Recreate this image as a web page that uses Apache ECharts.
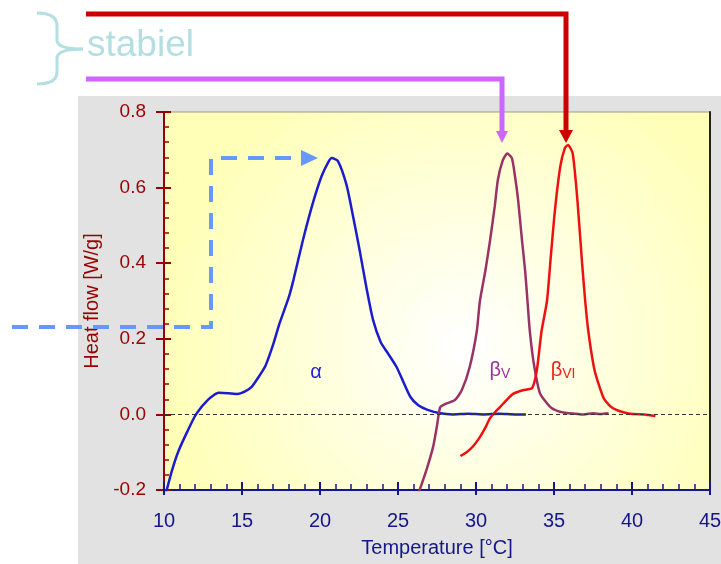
<!DOCTYPE html>
<html>
<head>
<meta charset="utf-8">
<script src="https://cdn.jsdelivr.net/npm/echarts@6/dist/echarts.min.js"></script>
<style>
  html, body { margin: 0; padding: 0; background: #fff; }
  #main { width: 721px; height: 564px; }
</style>
</head>
<body>
<div id="main"></div>
<script>
// DSC curves (temperature in °C, heat flow in W/g)
const alphaT = [10.08, 10.5, 10.9, 11.5, 12.05, 12.8, 13.5, 14.1, 14.7, 15.2, 15.6, 16.0, 16.5, 17.0, 17.4, 18.0, 18.3, 18.9, 19.55, 20.1, 20.5, 20.75, 21.15, 21.7, 22.1, 22.56, 23.0, 23.4, 23.9, 24.3, 24.9, 25.3, 25.8, 26.3, 26.9, 27.7, 28.5, 29.5, 30.5, 31.5, 32.5, 33.2]
const alphaV = [-0.215, -0.15, -0.10, -0.045, 0.0, 0.038, 0.057, 0.056, 0.054, 0.061, 0.072, 0.095, 0.128, 0.185, 0.24, 0.31, 0.356, 0.46, 0.56, 0.63, 0.665, 0.678, 0.67, 0.607, 0.528, 0.43, 0.33, 0.25, 0.19, 0.165, 0.126, 0.09, 0.046, 0.024, 0.012, 0.003, 0.0, 0.002, 0.0, 0.002, 0.0, 0.0]

const betaVT = [26.3, 26.8, 27.25, 27.5, 27.7, 28.0, 28.65, 29.1, 29.6, 30.05, 30.25, 30.6, 30.9, 31.2, 31.4, 31.7, 32.0, 32.3, 32.5, 32.7, 32.95, 33.15, 33.3, 33.45, 33.7, 34.1, 34.75, 35.3, 35.8, 36.4, 36.9, 37.5, 38.0, 38.5]
const betaVV = [-0.21, -0.15, -0.086, -0.03, 0.019, 0.027, 0.038, 0.065, 0.126, 0.22, 0.30, 0.38, 0.46, 0.55, 0.62, 0.67, 0.69, 0.678, 0.63, 0.567, 0.46, 0.38, 0.30, 0.22, 0.136, 0.056, 0.02, 0.008, 0.004, 0.002, 0.0, 0.003, 0.001, 0.003]

const betaVIT = [29.0, 29.4, 29.8, 30.25, 30.6, 30.9, 31.2, 31.55, 32.0, 32.4, 33.0, 33.6, 33.9, 34.2, 34.55, 34.8, 35.06, 35.4, 35.7, 35.9, 36.2, 36.5, 36.8, 37.0, 37.2, 37.6, 38.15, 38.6, 39.0, 39.5, 40.05, 40.8, 41.5]
const betaVIV = [-0.11, -0.10, -0.085, -0.06, -0.035, -0.01, 0.005, 0.02, 0.04, 0.055, 0.064, 0.07, 0.117, 0.22, 0.30, 0.42, 0.54, 0.655, 0.705, 0.713, 0.69, 0.567, 0.40, 0.30, 0.22, 0.117, 0.046, 0.022, 0.012, 0.005, 0.001, 0.0, -0.004]

// axis ranges
const xMin = 10, xMax = 45, xStep = 5
const yMin = -0.2, yMax = 0.8, yStep = 0.2

// where the peak names sit (data coords)
const alphaLabelAt = [19.74, 0.112]
const betaVLabelAt = [31.54, 0.117]
const betaVILabelAt = [35.58, 0.117]

const FONT = '"Liberation Sans", Arial, sans-serif'
const RED = '#990000'
const NAVY = '#16168c'
const CYAN = '#b3dfe2'

function zip(xs, ys) {
  return xs.map((x, i) => [x, ys[i]])
}

function peakLabel(coord, text, color) {
  return {
    silent: true,
    symbol: 'circle',
    symbolSize: 0,
    data: [{ coord: coord }],
    label: {
      show: true,
      position: 'inside',
      formatter: text,
      color: color,
      rich: {
        b: { fontSize: 20, color: color, fontFamily: FONT },
        s: { fontSize: 14, color: color, fontFamily: FONT, padding: [7, 0, 0, 0] }
      }
    }
  }
}

// bracket pieces for "stabiel"
function curve(x1, y1, cx, cy, x2, y2) {
  return { type: 'bezierCurve', z: 100, silent: true, shape: { x1: x1, y1: y1, cpx1: cx, cpy1: cy, x2: x2, y2: y2 }, style: { stroke: CYAN, lineWidth: 3, fill: null } }
}
function seg(x1, y1, x2, y2) {
  return { type: 'line', z: 100, silent: true, shape: { x1: x1, y1: y1, x2: x2, y2: y2 }, style: { stroke: CYAN, lineWidth: 3 } }
}

let myChart = echarts.init(document.getElementById('main'))

const option = {
  animation: false,
  backgroundColor: '#ffffff',
  textStyle: { fontFamily: FONT },
  grid: {
    left: 164, top: 112, right: 11, bottom: 74,
    show: true,
    borderWidth: 1,
    borderColor: '#999999',
    outerBoundsMode: 'none',
    backgroundColor: {
      type: 'radial', x: 0.55, y: 0.62, r: 0.8,
      colorStops: [{ offset: 0, color: '#ffffff' }, { offset: 1, color: '#ffffb8' }]
    }
  },
  xAxis: [
    {
      type: 'value', min: xMin, max: xMax, interval: xStep, position: 'bottom',
      name: 'Temperature [°C]', nameLocation: 'middle', nameGap: 48,
      nameTextStyle: { color: NAVY, fontSize: 20, fontFamily: FONT },
      axisLine: { onZero: false, lineStyle: { color: NAVY, width: 2 } },
      axisTick: { length: 5, lineStyle: { color: NAVY, width: 2 } },
      axisLabel: { color: NAVY, fontSize: 20, margin: 21, fontFamily: FONT },
      splitLine: { show: false }
    },
    {
      type: 'value', min: xMin, max: xMax, interval: xStep, position: 'bottom',
      axisLine: { show: false, onZero: false }, axisLabel: { show: false }, splitLine: { show: false },
      axisTick: { inside: true, length: 8, lineStyle: { color: NAVY, width: 2 } },
      minorTick: { show: true, splitNumber: 5, length: 6, lineStyle: { color: NAVY, width: 1.5 } }
    }
  ],
  yAxis: [
    {
      type: 'value', min: yMin, max: yMax, interval: yStep, position: 'left',
      name: 'Heat flow [W/g]', nameLocation: 'middle', nameGap: 54,
      nameTextStyle: { color: RED, fontSize: 20, fontFamily: FONT },
      axisLine: { onZero: false, lineStyle: { color: RED, width: 2 } },
      axisTick: { length: 8, lineStyle: { color: RED, width: 2 } },
      axisLabel: {
        color: RED, fontSize: 19, margin: 18, fontFamily: FONT,
        formatter: v => (Math.abs(v) < 1e-9 ? 0 : v).toFixed(1)
      },
      splitLine: { show: false }
    },
    {
      type: 'value', min: yMin, max: yMax, interval: yStep, position: 'left',
      axisLine: { show: false, onZero: false }, axisLabel: { show: false }, splitLine: { show: false },
      axisTick: { inside: true, length: 7, lineStyle: { color: RED, width: 2 } },
      minorTick: { show: true, splitNumber: 5, length: 5, lineStyle: { color: RED, width: 1.5 } }
    },
    {
      type: 'value', min: yMin, max: yMax, interval: yStep, position: 'right',
      axisLine: { show: true, onZero: false, lineStyle: { color: '#222222', width: 2 } },
      axisTick: { show: false }, axisLabel: { show: false }, splitLine: { show: false }
    }
  ],
  series: [
    {
      name: 'alpha', type: 'line', data: zip(alphaT, alphaV),
      showSymbol: false, smooth: 0.2, z: 3,
      lineStyle: { color: '#1c1ccc', width: 2.5 },
      markLine: {
        silent: true, symbol: 'none', label: { show: false },
        lineStyle: { color: '#333333', type: [4, 3], width: 1 },
        data: [{ yAxis: 0 }]
      },
      markPoint: peakLabel(alphaLabelAt, '{b|α}', '#2222dd')
    },
    {
      name: 'betaV', type: 'line', data: zip(betaVT, betaVV),
      showSymbol: false, smooth: 0.2, z: 3,
      lineStyle: { color: '#993366', width: 2.5 },
      markPoint: peakLabel(betaVLabelAt, '{b|β}{s|V}', '#993399')
    },
    {
      name: 'betaVI', type: 'line', data: zip(betaVIT, betaVIV),
      showSymbol: false, smooth: 0.2, z: 3,
      lineStyle: { color: '#ee1111', width: 2.5 },
      markPoint: peakLabel(betaVILabelAt, '{b|β}{s|VI}', '#ee2222')
    }
  ],
  graphic: [
    // grey panel behind the plot
    { type: 'rect', z: -10, silent: true, shape: { x: 78, y: 96, width: 643, height: 468 }, style: { fill: '#e2e2e2' } },
    // "stabiel" bracket
    curve(37, 13, 57, 13, 57, 26),
    seg(57, 26, 57, 40),
    curve(57, 40, 57, 49, 83, 49),
    curve(83, 49, 57, 49, 57, 58),
    seg(57, 58, 57, 72),
    curve(57, 72, 57, 84, 37, 84),
    {
      type: 'text', z: 100, silent: true,
      style: { text: 'stabiel', x: 87, y: 27, fill: CYAN, fontSize: 37, fontFamily: FONT, verticalAlign: 'top' }
    },
    // arrows to the peaks
    { type: 'polyline', z: 100, silent: true, shape: { points: [[86, 14], [566, 14], [566, 131]] }, style: { stroke: '#cc0000', lineWidth: 5, fill: null } },
    { type: 'polygon', z: 100, silent: true, shape: { points: [[559, 130], [573, 130], [566, 143]] }, style: { fill: '#cc0000' } },
    { type: 'polyline', z: 100, silent: true, shape: { points: [[86, 79], [502, 79], [502, 132]] }, style: { stroke: '#cc66ff', lineWidth: 5, fill: null } },
    { type: 'polygon', z: 100, silent: true, shape: { points: [[496, 131], [508, 131], [502, 143]] }, style: { fill: '#cc66ff' } },
    { type: 'polyline', z: 100, silent: true, shape: { points: [[12, 327], [211, 327], [211, 158], [302, 158]] }, style: { stroke: '#6699ff', lineWidth: 4, fill: null, lineDash: [16, 11] } },
    { type: 'polygon', z: 100, silent: true, shape: { points: [[301, 150], [318, 158], [301, 166]] }, style: { fill: '#6699ff' } }
  ]
}

myChart.setOption(option)
</script>
</body>
</html>
